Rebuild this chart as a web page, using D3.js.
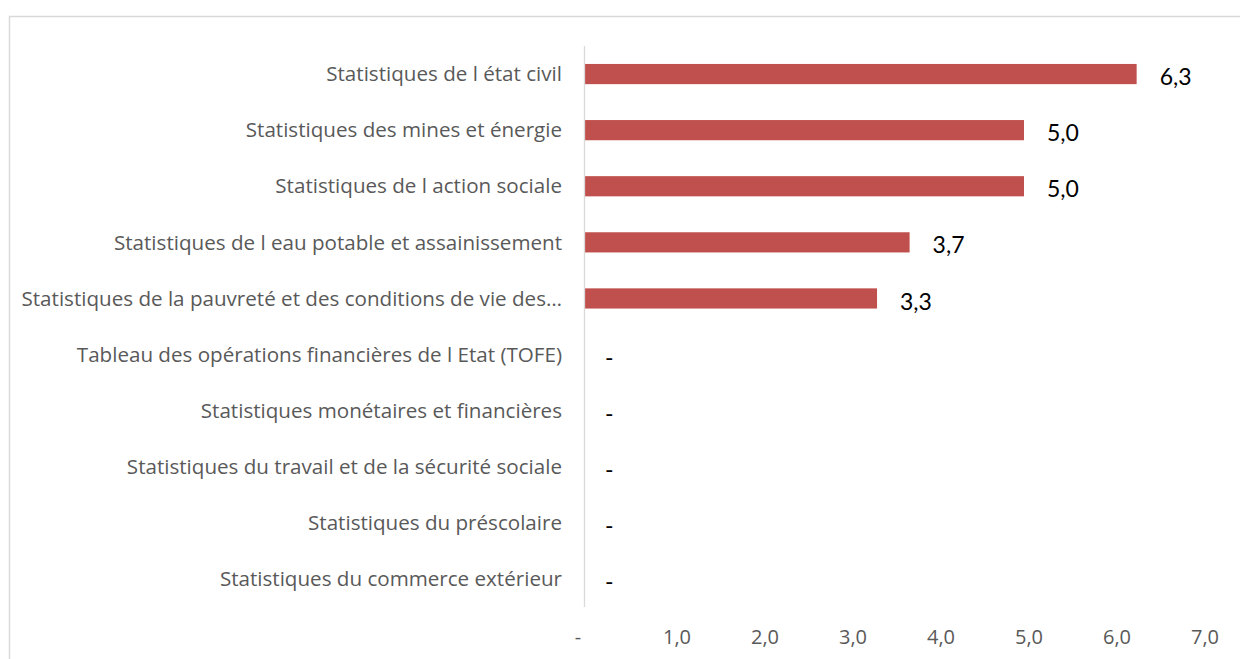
<!DOCTYPE html>
<html>
<head>
<meta charset="utf-8">
<script src="https://cdn.jsdelivr.net/npm/d3@7"></script>
<style>
  body { margin: 0; background: #fff; }
  svg { display: block; }
</style>
</head>
<body>
<div id="chart"></div>
<script>
/* CONSTANTS AND DATA */
const width = 1240;
const height = 659;
const margin = { top: 46, right: 40, bottom: 52, left: 584 };

const categories = [
  "Statistiques de l état civil",
  "Statistiques des mines et énergie",
  "Statistiques de l action sociale",
  "Statistiques de l eau potable et assainissement",
  "Statistiques de la pauvreté et des conditions de vie des…",
  "Tableau des opérations financières de l Etat (TOFE)",
  "Statistiques monétaires et financières",
  "Statistiques du travail et de la sécurité sociale",
  "Statistiques du préscolaire",
  "Statistiques du commerce extérieur"
];
const values = [6.28, 5.0, 5.0, 3.7, 3.33, 0, 0, 0, 0, 0];
const tickValues = [0, 1, 2, 3, 4, 5, 6, 7];

const fmt = v => v === 0 ? "-" : d3.format(".1f")(v).replace(".", ",");

const svg = d3.select("#chart")
  .append("svg")
  .attr("width", width)
  .attr("height", height);

// outer frame (partly outside the picture)
svg.append("rect")
  .attr("x", 9.5)
  .attr("y", 16.5)
  .attr("width", width)
  .attr("height", height)
  .attr("fill", "none")
  .attr("stroke", "#d9d9d9")
  .attr("stroke-width", 1.5);

/* SCALES */
const xScale = d3.scaleLinear()
  .domain([0, 7])
  .range([margin.left, margin.left + 88 * 7]);

const yScale = d3.scaleBand()
  .domain(categories)
  .range([margin.top, height - margin.bottom])
  .paddingInner(0.64)
  .paddingOuter(0.32);

/* BARS */
svg.selectAll("rect.bar")
  .data(categories.map((c, i) => ({ cat: c, val: values[i] })))
  .join("rect")
  .attr("class", "bar")
  .attr("x", xScale(0))
  .attr("y", d => yScale(d.cat))
  .attr("width", d => xScale(d.val) - xScale(0))
  .attr("height", yScale.bandwidth())
  .attr("fill", "#c0504d");

// vertical axis line
svg.append("line")
  .attr("x1", xScale(0) + 0.5)
  .attr("x2", xScale(0) + 0.5)
  .attr("y1", margin.top)
  .attr("y2", height - margin.bottom)
  .attr("stroke", "#d9d9d9")
  .attr("stroke-width", 1.3);

/* CATEGORY LABELS */
svg.selectAll("text.cat")
  .data(categories)
  .join("text")
  .attr("class", "cat")
  .attr("x", xScale(0) - 22)
  .attr("y", d => yScale(d) + yScale.bandwidth() / 2)
  .attr("dy", "0.35em")
  .attr("text-anchor", "end")
  .attr("font-family", "'Open Sans', sans-serif")
  .attr("font-size", "20.6px")
  .attr("fill", "#595959")
  .text(d => d);

/* VALUE LABELS */
svg.selectAll("text.val")
  .data(categories.map((c, i) => ({ cat: c, val: values[i] })))
  .join("text")
  .attr("class", "val")
  .attr("x", d => xScale(d.val) + (d.val === 0 ? 21 : 23))
  .attr("y", d => yScale(d.cat) + yScale.bandwidth() / 2 + 3)
  .attr("dy", "0.35em")
  .attr("font-family", "Lato, 'Open Sans', sans-serif")
  .attr("font-size", "23px")
  .attr("fill", "#000")
  .text(d => fmt(d.val));

/* X AXIS TICK LABELS */
svg.selectAll("text.tick")
  .data(tickValues)
  .join("text")
  .attr("class", "tick")
  .attr("x", d => d === 0 ? xScale(d) - 6 : xScale(d) + 5)
  .attr("y", 637)
  .attr("dy", "0.35em")
  .attr("text-anchor", "middle")
  .attr("font-family", "'Open Sans', sans-serif")
  .attr("font-size", "20px")
  .attr("fill", "#595959")
  .text(d => fmt(d));
</script>
</body>
</html>
